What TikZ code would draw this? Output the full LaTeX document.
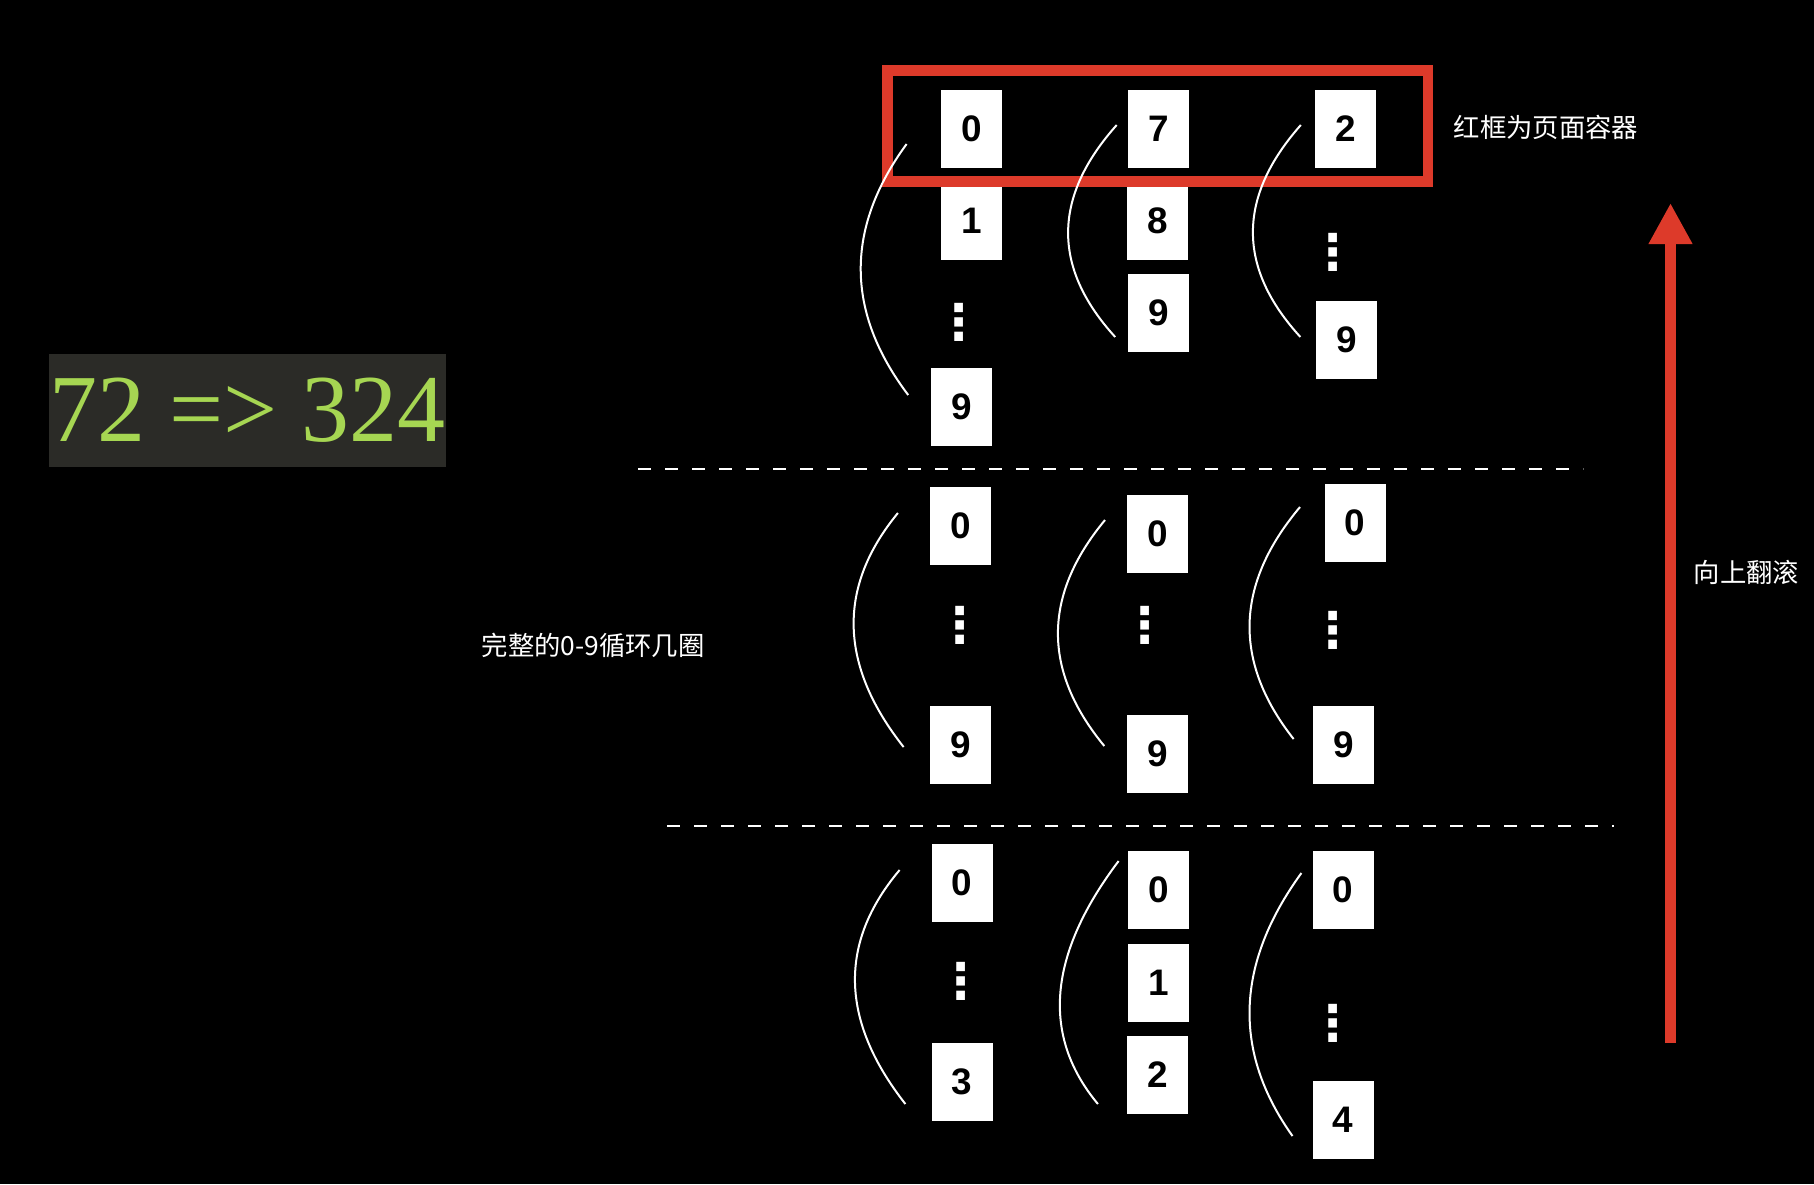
\documentclass[tikz,border=0pt]{standalone}
\usepackage{fontspec}
\setmainfont{Liberation Serif}
\newfontfamily\cjk{Noto Sans CJK SC}
\newfontfamily\digitfont{Liberation Sans}
\newfontfamily\dotfont{DejaVu Sans}
\usetikzlibrary{arrows.meta}
\definecolor{frame}{RGB}{221,58,42}
\definecolor{lime}{RGB}{166,214,82}
\definecolor{slate}{RGB}{43,43,39}

\begin{document}
\begin{tikzpicture}[x=0.1mm,y=-0.1mm,
  digit/.style={fill=white,inner sep=0pt,minimum width=6.1mm,minimum height=7.8mm,font=\digitfont\bfseries\fontsize{10.5pt}{12pt}\selectfont},
  ellip/.style={text=white,inner sep=0pt,font=\dotfont\bfseries\fontsize{14pt}{16pt}\selectfont},
  note/.style={text=white,inner sep=0pt,anchor=west,font=\cjk\fontsize{7.5pt}{9pt}\selectfont},
  wheel/.style={white,line width=0.2mm},
  divider/.style={white,line width=0.2mm,dash pattern=on 1.3mm off 1.4mm}]

\useasboundingbox (0,0) rectangle (1814,1184);
\fill[black] (0,0) rectangle (1814,1184);

\node[fill=slate,text=lime,inner sep=0pt,minimum width=39.3mm,minimum height=11.3mm,font=\fontsize{27.3pt}{30pt}\selectfont] (sum) at (247.5,410.5) {72 => 324};

% page container
\node[digit] (a0) at (971.5,129) {0};
\node[digit] (a1) at (971.5,221) {1};
\node[ellip] (adots) at (959,322) {⋮};
\node[digit] (a9) at (961.5,407) {9};
\node[digit] (b7) at (1158.5,129) {7};
\node[digit] (b8) at (1157.5,221) {8};
\node[digit] (b9) at (1158.5,313) {9};
\node[digit] (c2) at (1345.5,129) {2};
\node[ellip] (cdots) at (1333,252) {⋮};
\node[digit] (c9) at (1346.5,340) {9};

\draw[frame,line width=1.05mm] (887.7,70.5) rectangle (1428,181.5);
\node[note] (page) at (1453,127) {红框为页面容器};

\draw[wheel] (906.6,144) .. controls (844.9,228.3) and (845.4,312) .. (908.2,395);
\draw[wheel] (1116.7,125) .. controls (1052.4,197) and (1051.9,267.7) .. (1115.2,337);
\draw[wheel] (1300.8,125) .. controls (1237.1,197) and (1236.9,267.7) .. (1300.4,337);

\draw[divider] (638,469) -- (1583,469);

% full rounds
\node[digit] (ma0) at (960.5,526) {0};
\node[ellip] (madots) at (960.4,625) {⋮};
\node[digit] (ma9) at (960.5,744.5) {9};
\node[digit] (mb0) at (1157.3,534) {0};
\node[ellip] (mbdots) at (1144.6,625) {⋮};
\node[digit] (mb9) at (1157.3,754) {9};
\node[digit] (mc0) at (1355,523) {0};
\node[ellip] (mcdots) at (1333.2,630) {⋮};
\node[digit] (mc9) at (1343.4,744.5) {9};

\draw[wheel] (897.9,513) .. controls (837,587) and (838.9,665) .. (903.6,747);
\draw[wheel] (1105,520) .. controls (1042.5,595.3) and (1042.2,670.7) .. (1104.3,746);
\draw[wheel] (1300,507) .. controls (1234.9,584.3) and (1232.8,661.7) .. (1293.6,739);

\node[note] (rounds) at (481,645) {完整的0-9循环几圈};

\draw[divider] (667,826) -- (1614,826);

% start
\node[digit] (sa0) at (962,883) {0};
\node[ellip] (sadots) at (961.4,981) {⋮};
\node[digit] (sa3) at (962,1082) {3};
\node[digit] (sb0) at (1158.4,890) {0};
\node[digit] (sb1) at (1158.4,982.5) {1};
\node[digit] (sb2) at (1157.3,1074.5) {2};
\node[digit] (sc0) at (1343.2,890) {0};
\node[ellip] (scdots) at (1332.9,1023) {⋮};
\node[digit] (sc4) at (1343.2,1120) {4};

\draw[wheel] (899.6,870) .. controls (838.2,942.7) and (840.1,1020.7) .. (905.4,1104);
\draw[wheel] (1118.6,861) .. controls (1047.9,954.7) and (1041,1035.7) .. (1097.9,1104);
\draw[wheel] (1301.4,873) .. controls (1235.3,964) and (1232.4,1051.7) .. (1292.5,1136);

% scroll direction
\coordinate (rollbot) at (1670.5,1043);
\coordinate (rolltop) at (1670.5,203);
\draw[frame,line width=1.1mm,-{Triangle[width=4.1mm,length=4.1mm]}] (rollbot) -- (rolltop);
\node[note] (roll) at (1693,572) {向上翻滚};

\end{tikzpicture}
\end{document}
